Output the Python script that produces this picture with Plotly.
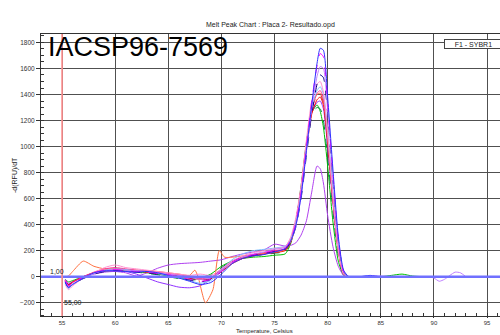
import plotly.graph_objects as go

# Shared temperature grid (Celsius)
T = [55.3, 55.6, 56, 57, 58, 59, 60, 61, 62, 63, 64, 65, 66, 67, 68, 69, 70, 71, 72, 73, 74, 75, 76,
     76.5, 77, 77.5, 78, 78.5, 79, 79.3, 79.6, 80, 80.5, 81, 81.5, 82, 83, 84, 85, 86, 87, 88, 89]

# Orange well has a finer grid around its artefact
T_ORANGE = [55.3, 55.6, 56, 57, 58, 59, 60, 61, 62, 63, 64, 65, 66, 67, 67.5, 67.8, 68.5, 69.2, 69.8, 70.3,
            71, 72, 73, 74, 75, 76, 76.5, 77, 77.5, 78, 78.5, 79, 79.3, 79.6, 80, 80.5, 81, 81.5, 82, 83,
            84, 85, 86, 87, 88, 89]

# Lavender well continues further
T_TAIL = [89.5, 90, 90.5, 91, 91.5, 92, 92.5, 93]

green = [-20, -40, -30, 0, 25, 40, 45, 45, 40, 30, 20, 5, -10, -20, -10, 20, 80, 120, 140, 150, 155, 165, 175,
         250, 420, 700, 1030, 1260, 1320, 1270, 1150, 850, 420, 120, 10, 0, 0, 0, 0, 10, 20, 5, 0]
dark_green = [-35, -60, -45, -5, 25, 40, 45, 40, 35, 25, 15, 0, -15, -25, -20, 10, 70, 120, 145, 160, 170, 180, 195,
              260, 420, 680, 1010, 1250, 1300, 1290, 1200, 920, 500, 160, 15, 0, 0, 0, 0, 0, 0, 0, 0]
purple_low = [-20, -50, -40, -5, 20, 35, 40, 30, 5, 30, 65, 90, 100, 105, 110, 120, 130, 155, 175, 190, 205, 250, 235,
              240, 260, 320, 430, 650, 850, 830, 720, 470, 230, 80, 10, 0, 0, 0, 0, 0, 0, 0, 0]
purple_dip = [-30, -60, -40, 0, 30, 45, 45, 40, 20, -10, -40, -60, -80, -85, -70, -20, 60, 120, 150, 165, 175, 190, 210,
              270, 420, 670, 1000, 1260, 1340, 1350, 1290, 1000, 560, 190, 20, 0, 0, 0, 0, 0, 0, 0, 0]
red = [-30, -60, -40, 0, 30, 50, 60, 55, 45, 35, 25, 15, 5, -10, -20, -15, 40, 100, 140, 160, 175, 185, 200,
       260, 400, 650, 980, 1250, 1360, 1380, 1320, 1030, 580, 200, 20, 0, 0, 0, 0, 0, 0, 0, 0]
dark_red = [-35, -65, -45, -5, 25, 45, 50, 45, 40, 35, 25, 15, 5, -10, -25, -15, 45, 110, 150, 170, 180, 195, 210,
            275, 430, 680, 1010, 1290, 1390, 1400, 1340, 1050, 600, 210, 25, 0, 0, 0, 0, 0, 0, 0, 0]
orange = [0, 5, 40, 120, 80, 60, 60, 55, 50, 45, 40, 30, 20, 10, 50, 0, -200, -100, 200, 150,
          150, 160, 170, 180, 190, 205, 265, 420, 680, 1020, 1300, 1400, 1410, 1350, 1060, 600, 210, 20, 0, 0,
          0, 0, 0, 0, 0, 0]
hot_pink = [-40, -70, -45, 0, 35, 60, 70, 60, 50, 45, 35, 25, 15, 0, -15, -5, 50, 115, 150, 170, 185, 200, 215,
            280, 430, 680, 1020, 1300, 1410, 1430, 1370, 1080, 620, 220, 25, 0, 0, 0, 0, 0, 0, 0, 0]
light_blue = [-50, -90, -60, -10, 25, 50, 60, 55, 45, 40, 25, 10, -10, -30, -50, -30, 50, 130, 175, 200, 210, 220, 235,
              290, 420, 660, 1000, 1300, 1430, 1460, 1400, 1120, 660, 240, 30, 0, 0, 0, 0, 0, 0, 0, 0]
pink = [-60, -100, -70, -10, 30, 70, 90, 70, 60, 50, 40, 30, 20, 10, 20, 10, 60, 120, 160, 185, 200, 215, 230,
        300, 450, 700, 1050, 1350, 1480, 1500, 1420, 1100, 600, 200, 20, 0, 0, 0, 0, 0, 0, 0, 0]
navy = [-45, -80, -55, -15, 20, 40, 50, 45, 35, 30, 20, 5, -10, -25, -40, -20, 40, 110, 150, 165, 180, 195, 210,
        265, 380, 600, 930, 1250, 1480, 1550, 1530, 1250, 750, 280, 40, 0, 0, 5, 0, 0, 0, 0, 0]
lavender = [-35, -75, -55, -10, 25, 45, 55, 50, 45, 40, 30, 20, 10, -5, -20, -10, 45, 110, 150, 175, 190, 210, 225,
            270, 390, 620, 960, 1290, 1540, 1615, 1600, 1280, 760, 280, 40, 0, 0, 0, 5, 0, 0, 0, 0]
lavender_tail = [0, -10, -35, -20, 10, 35, 30, 0]
magenta = [-30, -70, -50, -5, 30, 50, 55, 45, 40, 35, 25, 15, 0, -20, -35, -20, 40, 110, 150, 170, 185, 200, 220,
           280, 410, 650, 1000, 1350, 1620, 1715, 1690, 1330, 780, 290, 40, 0, 0, 5, 0, 0, 0, 0, 0]
blue = [-40, -85, -60, -10, 30, 45, 45, 40, 35, 40, 30, 10, -10, -35, -60, -45, 20, 100, 140, 160, 170, 190, 215,
        270, 390, 620, 970, 1320, 1640, 1755, 1740, 1380, 820, 310, 50, 0, 0, 10, 0, 0, 0, 0, 0]

series = [
    ("green", T, green, "#00c000", "solid"),
    ("dark_green", T, dark_green, "#008040", "dash"),
    ("purple_low", T, purple_low, "#b040f0", "solid"),
    ("purple_dip", T, purple_dip, "#9030ff", "solid"),
    ("red", T, red, "#ff0000", "solid"),
    ("dark_red", T, dark_red, "#a00040", "dash"),
    ("orange", T_ORANGE, orange, "#ff7040", "solid"),
    ("hot_pink", T, hot_pink, "#ff3090", "solid"),
    ("light_blue", T, light_blue, "#80c0ff", "solid"),
    ("pink", T, pink, "#ff90d0", "solid"),
    ("navy", T, navy, "#000080", "dash"),
    ("lavender", T + T_TAIL, lavender + lavender_tail, "#c080ff", "solid"),
    ("magenta", T, magenta, "#ff00ff", "dash"),
    ("blue", T, blue, "#3030ff", "solid"),
]

fig = go.Figure()
for name, xs, ys, col, dash in series:
    fig.add_trace(go.Scatter(x=xs, y=ys, mode="lines", name=name,
                             line=dict(color=col, width=1, dash=dash, shape="spline", smoothing=0.6),
                             hoverinfo="skip"))

# reference lines
fig.add_shape(type="line", xref="paper", yref="y", x0=0, x1=1, y0=0, y1=0,
              line=dict(color="#7070ff", width=2.5), layer="above")
fig.add_shape(type="line", xref="x", yref="paper", x0=55, x1=55, y0=0, y1=1,
              line=dict(color="#ff9090", width=1.6), layer="above")

grid_col = "#505050"
fig.update_xaxes(range=[53.02, 96.22], dtick=5, tick0=55, showgrid=True, gridcolor=grid_col, gridwidth=1,
                 ticks="outside", ticklen=1, tickcolor="#333", showline=True, linecolor="#333", mirror=True,
                 zeroline=False, tickfont=dict(size=6, color="#333"),
                 minor=dict(dtick=1, ticks="inside", ticklen=3, tickcolor="#333", showgrid=False))
fig.update_yaxes(range=[-302, 1865], dtick=200, tick0=0, showgrid=True, gridcolor=grid_col, gridwidth=1,
                 ticks="outside", ticklen=4, tickcolor="#333", showline=True, linecolor="#333", mirror=True,
                 zeroline=False, tickfont=dict(size=6.5, color="#333"),
                 minor=dict(dtick=50, ticks="inside", ticklen=3, tickcolor="#333", showgrid=False))

ann_font = dict(family="Liberation Sans, Arial", size=7, color="#222")
fig.update_layout(
    width=500, height=335,
    margin=dict(l=41, r=0, t=34, b=19),
    showlegend=False,
    plot_bgcolor="white", paper_bgcolor="white",
    font=dict(family="Liberation Sans, Arial", size=7, color="#333"),
    annotations=[
        dict(text="Melt Peak Chart : Placa 2- Resultado.opd", xref="paper", yref="paper", x=0.5, y=1,
             yanchor="bottom", yshift=3, showarrow=False, font=ann_font),
        dict(text="IACSP96-7569", xref="paper", yref="paper", x=0.011, y=0.954, xanchor="left",
             yanchor="middle", showarrow=False,
             font=dict(family="Liberation Sans, Arial", size=27, color="black")),
        dict(text="&nbsp;&nbsp;&nbsp;&nbsp;&nbsp;F1 - SYBR1", xref="paper", yref="paper", x=0.878,
             y=(316 - 44) / 282, xanchor="left",
             yanchor="middle", showarrow=False, width=75, height=8, align="left", borderpad=0,
             bordercolor="#444", borderwidth=1, bgcolor="white", font=ann_font),
        dict(text="1,00", xref="paper", yref="paper", x=(48 - 41) / 459, y=(316 - 271) / 282, xanchor="left",
             yanchor="middle", showarrow=False, font=ann_font),
        dict(text="55,00", xref="paper", yref="paper", x=(62 - 41) / 459, y=(316 - 302) / 282, xanchor="left",
             yanchor="middle", showarrow=False, font=ann_font),
        dict(text="-d(RFU)/dT", xref="paper", yref="paper", x=(15 - 41) / 459, y=0.5, xanchor="center",
             yanchor="middle", textangle=-90, showarrow=False, font=ann_font),
        dict(text="Temperature, Celsius", xref="paper", yref="paper", x=(264 - 41) / 459, y=0,
             yshift=-(335 - 316), xanchor="center", yanchor="bottom", showarrow=False, borderpad=0,
             font=dict(family="Liberation Sans, Arial", size=6, color="#222")),
    ],
)

fig.write_html("out.html")
